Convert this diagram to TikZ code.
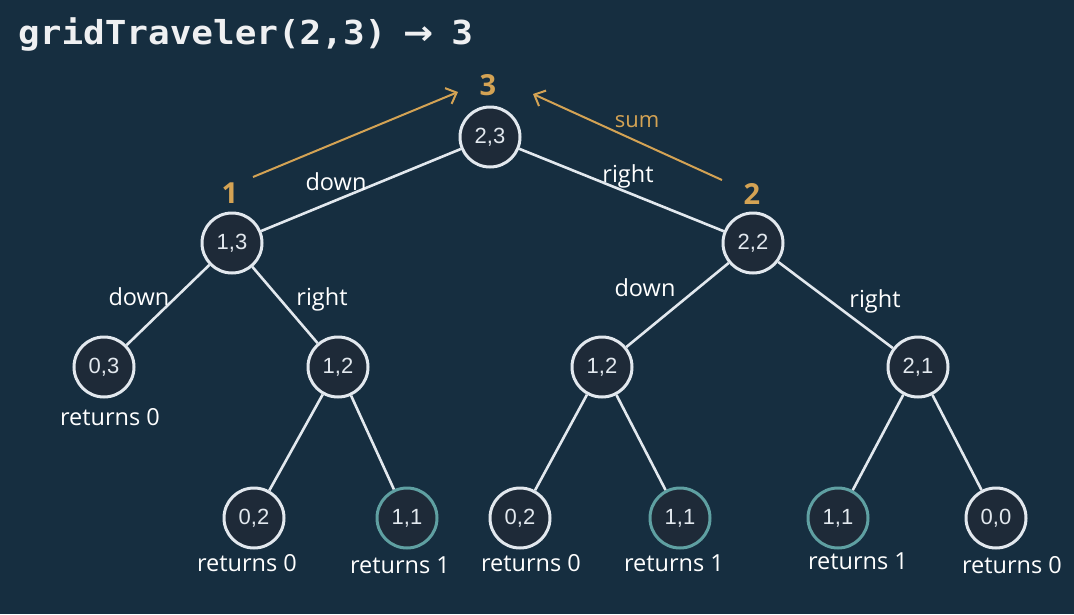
\documentclass[tikz,border=0pt]{standalone}
\usepackage{fontspec}
\setmainfont{Open Sans}
\newfontfamily\nodefont{Liberation Sans}
\newfontfamily\titlefont{DejaVu Sans Mono}
\newfontfamily\arrowfont{DejaVu Sans}
\usetikzlibrary{arrows.meta}
\definecolor{bgc}{RGB}{22,46,64}
\definecolor{nodefill}{RGB}{30,42,56}
\definecolor{linec}{RGB}{226,232,238}
\definecolor{tealc}{RGB}{95,160,162}
\definecolor{goldc}{RGB}{212,163,84}
\tikzset{
  tnode/.style={circle, draw=linec, fill=nodefill, line width=3pt, minimum size=60pt, inner sep=0pt,
    text=linec, font=\nodefont\fontsize{22}{26}\selectfont},
  leafone/.style={tnode, draw=tealc},
  edge/.style={draw=linec, line width=2.6pt},
  lbl/.style={anchor=base, text=white, font=\fontsize{23.5}{28}\selectfont, inner sep=0pt},
  goldnum/.style={anchor=base, text=goldc, font=\bfseries\fontsize{29}{34}\selectfont, inner sep=0pt},
  goldarrow/.style={draw=goldc, line width=2pt, -{Straight Barb[length=9pt,width=17pt,line width=2pt]}},
}
\begin{document}
\begin{tikzpicture}[x=1pt,y=-1pt]
\fill[bgc] (0,0) rectangle (1074,614);
\useasboundingbox (0,0) rectangle (1074,614);
% title
\node[anchor=base west, inner sep=0pt, text=white!93!bgc, font=\titlefont\bfseries\fontsize{33}{38}\selectfont, xscale=1.09, transform shape] (title) at (18,44) {gridTraveler(2,3) \makebox[0.6em]{\arrowfont\bfseries →} 3};
% tree nodes
\node[tnode] (n23) at (490,137) {2,3};
\node[tnode] (n13) at (232,243) {1,3};
\node[tnode] (n22) at (753,243) {2,2};
\node[tnode] (n03) at (104,367) {0,3};
\node[tnode] (n12a) at (338,367) {1,2};
\node[tnode] (n12b) at (602,367) {1,2};
\node[tnode] (n21) at (918,367) {2,1};
\node[tnode] (n02a) at (254,518) {0,2};
\node[leafone] (n11a) at (407,518) {1,1};
\node[tnode] (n02b) at (520,518) {0,2};
\node[leafone] (n11b) at (680,518) {1,1};
\node[leafone] (n11c) at (838,518) {1,1};
\node[tnode] (n00) at (996,518) {0,0};
% edges
\draw[edge] (n23) -- (n13);
\draw[edge] (n23) -- (n22);
\draw[edge] (n13) -- (n03);
\draw[edge] (n13) -- (n12a);
\draw[edge] (n22) -- (n12b);
\draw[edge] (n22) -- (n21);
\draw[edge] (n12a) -- (n02a);
\draw[edge] (n12a) -- (n11a);
\draw[edge] (n12b) -- (n02b);
\draw[edge] (n12b) -- (n11b);
\draw[edge] (n21) -- (n11c);
\draw[edge] (n21) -- (n00);
% edge labels
\node[lbl] (l1) at (336,190) {down};
\node[lbl] (l2) at (628,182) {right};
\node[lbl] (l3) at (139,305) {down};
\node[lbl] (l4) at (322,305) {right};
\node[lbl] (l5) at (645,296) {down};
\node[lbl] (l6) at (875,307) {right};
% return labels
\node[lbl] (r1) at (110,425) {returns 0};
\node[lbl] (r2) at (247,571) {returns 0};
\node[lbl] (r3) at (400,573) {returns 1};
\node[lbl] (r4) at (531,571) {returns 0};
\node[lbl] (r5) at (674,571) {returns 1};
\node[lbl] (r6) at (858,569) {returns 1};
\node[lbl] (r7) at (1012,573) {returns 0};
% gold sums
\node[goldnum] (g3) at (488,95) {3};
\node[goldnum] (g1) at (230,203) {1};
\node[goldnum] (g2) at (752,204) {2};
\node[anchor=base, inner sep=0pt, text=goldc, font=\fontsize{22}{26}\selectfont] (sum) at (637,127) {sum};
\coordinate (a1s) at (253,177);
\coordinate (a1e) at (458,92);
\coordinate (a2s) at (722,180);
\coordinate (a2e) at (533,94);
\draw[goldarrow] (a1s) -- (a1e);
\draw[goldarrow] (a2s) -- (a2e);
\end{tikzpicture}
\end{document}
